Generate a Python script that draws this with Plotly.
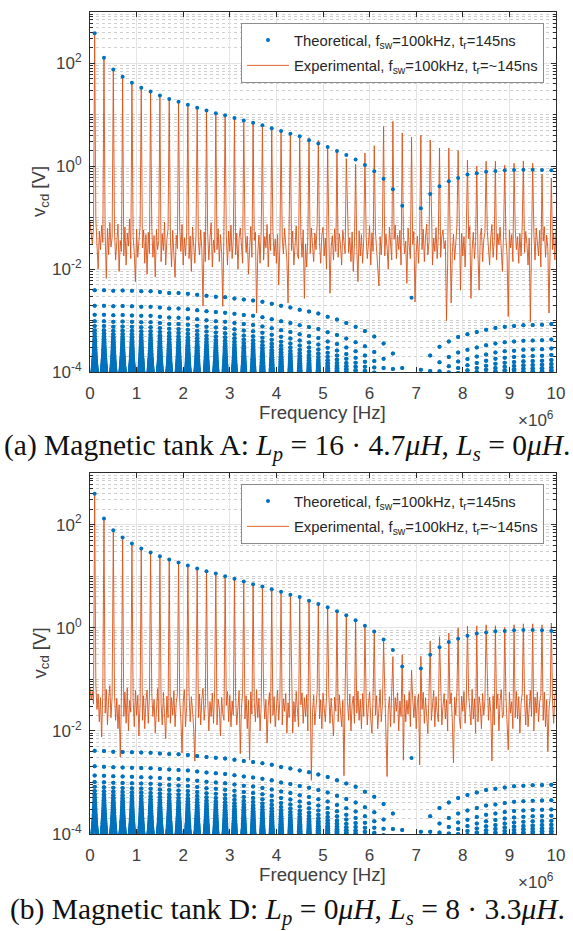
import plotly.graph_objects as go

W, H = 573, 931

# ---------------------------------------------------------------- data
F_SW = 100e3  # switching frequency [Hz]

# odd harmonics of the switching frequency shown on the axis
harmonic_order = [1, 3, 5, 7, 9, 11, 13, 15, 17, 19, 21, 23, 25, 27, 29, 31, 33,
                  35, 37, 39, 41, 43, 45, 47, 49, 51, 53, 55, 57, 59, 61, 63, 65,
                  67, 69, 71, 73, 75, 77, 79, 81, 83, 85, 87, 89, 91, 93, 95, 97, 99]

# theoretical harmonic amplitudes [V]
theo_peak_a = [387, 129, 76, 55, 42, 33.7, 28.6, 23.9, 20.3, 18, 15.8, 13.8, 12.2,
               10.8, 9.8, 8.7, 7.8, 7.05, 6.25, 5.47, 4.85, 4.3, 3.83, 3.2, 2.76,
               2.37, 1.98, 1.66, 1.35, 1.06, 0.80, 0.57, 0.357, 0.17, 0.00277,
               0.153, 0.29, 0.41, 0.51, 0.59, 0.69, 0.73, 0.78, 0.81, 0.84, 0.85,
               0.86, 0.86, 0.85, 0.84]
theo_peak_b = [398, 131, 77.6, 56, 42.9, 34.3, 28.7, 24.4, 21, 18.4, 16.1, 14.1,
               12.5, 11.3, 10, 8.87, 7.9, 7.0, 6.3, 5.6, 4.97, 4.35, 3.93, 3.33,
               2.87, 2.48, 2.08, 1.74, 1.39, 1.09, 0.84, 0.59, 0.37, 0.176, 0.00298,
               0.161, 0.30, 0.42, 0.53, 0.61, 0.70, 0.77, 0.81, 0.85, 0.86, 0.89,
               0.90, 0.90, 0.89, 0.86]

# first side-lobe level next to every harmonic [uV]
theo_sidelobe_a_uv = [3900, 3900, 3800, 3850, 3780, 3710, 3720, 3580, 3450, 3420,
                      3320, 3170, 3050, 2920, 2840, 2700, 2570, 2470, 2310, 2130,
                      1940, 1800, 1630, 1500, 1370, 1180, 1050, 900, 760, 630,
                      490, 360, 230, 120, 2, 110, 210, 310, 390, 480,
                      540, 600, 660, 720, 760, 780, 810, 820, 830, 860]
theo_sidelobe_b_uv = [4100, 4050, 3950, 3900, 3850, 3800, 3750, 3650, 3550, 3500,
                      3400, 3250, 3100, 3000, 2900, 2750, 2600, 2500, 2350, 2200,
                      2000, 1870, 1700, 1570, 1420, 1280, 1100, 950, 820, 660,
                      530, 380, 250, 120, 2, 110, 220, 320, 410, 500,
                      570, 640, 710, 750, 800, 840, 860, 880, 890, 900]

# side-lobe rows: distance from the harmonic [kHz] and level relative to the first lobe
sidelobe_offset_khz = [1.2, 2.4, 3.6, 4.8, 6.0, 7.2, 8.4, 9.6, 10.8, 12.0, 13.2, 14.4,
                       15.6, 16.8, 18.0, 19.2, 20.4, 21.6, 22.8, 24.0, 25.2, 26.4,
                       27.6, 28.8, 30.0, 31.2, 32.4, 33.6, 34.8, 36.0, 37.2, 38.4,
                       39.6, 40.8, 42.0, 43.2, 44.4, 45.6, 46.8, 48.0]
sidelobe_ratio = [1, .5, .333, .25, .2, .167, .143, .125, .111, .1, .0909, .0833,
                  .0769, .0714, .0667, .0625, .0588, .0556, .0526, .05, .0476, .0455,
                  .0435, .0417, .04, .0385, .037, .0357, .0345, .0333, .0323, .0313,
                  .0303, .0294, .0286, .0278, .027, .0263, .0256, .025]

# measured harmonic peaks [V]
meas_peak_a = [387, 129, 76, 55, 42, 33.7, 28.6, 23.9, 20.3, 18, 15.8, 13.8, 12.2,
               10.8, 9.8, 8.7, 7.8, 7.05, 6.25, 5.47, 4.85, 4.5, 4.0, 3.6, 3.2, 2.5,
               2.1, 1.41, 1.09, 1.81, 2.52, 5.98, 7.48, 4.43, 3.7, 4.0, 3.24, 2.27,
               2.27, 2.02, 1.31, 1.01, 1.25, 1.25, 1.05, 1.14, 1.27, 1.14, 0.70, 0.59]
meas_peak_b = [398, 131, 77.6, 56, 42.9, 34.3, 28.7, 24.4, 21, 18.4, 16.1, 14.1,
               12.5, 11.3, 10, 8.87, 7.9, 7.0, 6.3, 5.6, 4.97, 4.35, 3.93, 3.33,
               2.87, 2.48, 2.08, 1.74, 1.39, 1.09, 0.84, 0.54, 0.275, 0.30, 0.15,
               0.28, 0.55, 0.67, 0.79, 1.0, 1.08, 1.09, 1.14, 1.09, 1.01, 1.14,
               1.19, 1.19, 1.14, 1.23]

# measured floor between the harmonics [mV], one row per gap (25 kHz bins)
meas_floor_a_mv = [
    [85, 52, 30, 64],
    [90, 38, 10, 55, 24, 71, 33],
    [48, 6.6, 62, 19, 80, 27, 41],
    [58, 15, 44, 75, 9, 36, 22],
    [18, 66, 12, 50, 28, 95, 16],
    [43, 21, 5.7, 60, 17, 39, 70],
    [26, 58, 13, 47, 8, 52, 20],
    [68, 17, 45, 7, 59, 24, 36],
    [14, 49, 23, 82, 12, 38, 61],
    [40, 11, 57, 19, 7, 46, 25],
    [63, 22, 74, 12, 41, 18, 52],
    [16, 44, 9, 66, 27, 13, 48],
    [35, 19, 58, 24, 1.9, 53, 14],
    [50, 15, 42, 79, 11, 37, 21],
    [24, 61, 14, 47, 20, 1.9, 67],
    [45, 12, 55, 22, 72, 16, 38],
    [19, 50, 10, 40, 63, 25, 13],
    [57, 21, 44, 8, 33, 68, 17],
    [36, 52, 1.4, 20, 46, 13, 60],
    [15, 43, 26, 74, 11, 48, 23],
    [54, 18, 39, 13, 47, 4.9, 30],
    [42, 20, 62, 28, 15, 2.2, 51],
    [23, 55, 12, 40, 69, 19, 16],
    [47, 17, 58, 2.7, 31, 11, 44],
    [20, 63, 35, 14, 50, 24, 77],
    [33, 13, 46, 65, 18, 40, 10],
    [52, 3.4, 27, 45, 15, 61, 22],
    [17, 49, 30, 12, 57, 35, 20],
    [64, 21, 41, 14, 53, 9, 32],
    [25, 5.7, 56, 18, 47, 13, 39],
    [44, 16, 31, 70, 12, 51, 22],
    [55, 26, 12, 4.7, 43, 19, 62],
    [18, 48, 27, 10, 66, 34, 15],
    [38, 72, 16, 46, 24, 57, 12],
    [51, 20, 35, 5.3, 63, 28, 16],
    [30, 54, 2.3, 21, 44, 13, 49],
    [24, 60, 14, 42, 75, 19, 33],
    [53, 12, 40, 22, 64, 16, 45],
    [17, 44, 58, 25, 36, 1.0, 13],
    [62, 2.2, 21, 48, 15, 39, 71],
    [27, 3.9, 50, 18, 43, 11, 59],
    [39, 68, 2.7, 24, 52, 16, 34],
    [20, 3.9, 45, 63, 14, 37, 51],
    [56, 23, 12, 42, 74, 17, 36],
    [15, 49, 30, 66, 21, 9, 53],
    [41, 19, 1.2, 58, 26, 47, 14],
    [61, 24, 43, 13, 50, 18, 69],
    [21, 54, 32, 12, 40, 0.95, 28],
    [48, 15, 63, 29, 18, 57, 11],
    [35, 67, 17, 46, 25, 1.4, 55],
    [24, 50, 15, 60],
]
meas_floor_b_mv = [
    [70, 40, 58, 33],
    [78, 26, 52, 15, 44, 7.6, 60],
    [22, 64, 13, 41, 75, 18, 47],
    [55, 16, 43, 11, 32, 3.1, 50],
    [19, 57, 14, 68, 10, 39, 23],
    [42, 12, 61, 20, 49, 8, 35],
    [16, 48, 11, 38, 62, 14, 45],
    [53, 19, 41, 9, 30, 66, 15],
    [34, 13, 56, 22, 7, 47, 18],
    [14, 44, 20, 60, 12, 35, 51],
    [40, 17, 3.7, 36, 63, 12, 30],
    [55, 15, 46, 25, 11, 2.6, 38],
    [18, 52, 13, 42, 67, 16, 33],
    [47, 10, 37, 19, 54, 14, 60],
    [13, 41, 28, 8, 45, 21, 16],
    [31, 58, 15, 49, 12, 38, 20],
    [44, 13, 35, 61, 3.6, 29, 52],
    [17, 48, 11, 39, 2.7, 57, 21],
    [36, 15, 63, 18, 43, 10, 33],
    [51, 17, 40, 5.8, 30, 55, 14],
    [20, 46, 12, 37, 62, 16, 41],
    [13, 42, 24, 53, 9, 35, 18],
    [48, 9, 37, 15, 58, 22, 12],
    [32, 55, 14, 44, 19, 50, 10],
    [41, 1.1, 23, 49, 13, 36, 60],
    [17, 40, 11, 54, 27, 15, 46],
    [52, 14, 43, 20, 8, 45, 24],
    [15, 50, 28, 12, 39, 1.35, 57],
    [37, 16, 52, 10, 33, 47, 14],
    [22, 59, 16, 41, 11, 53, 19],
    [45, 13, 34, 57, 17, 9, 49],
    [20, 48, 11, 37, 63, 15, 31],
    [54, 17, 1.3, 26, 46, 12, 40],
    [14, 44, 24, 55, 10, 38, 19],
    [2.7, 50, 15, 39, 21, 58, 12],
    [42, 18, 48, 11, 35, 52, 2.2],
    [26, 56, 14, 44, 19, 9, 50],
    [16, 38, 60, 12, 46, 23, 15],
    [49, 13, 30, 53, 17, 40, 10],
    [33, 55, 16, 2.4, 45, 20, 62],
    [19, 11, 47, 24, 58, 14, 38],
    [51, 22, 13, 64, 17, 42, 9],
    [15, 46, 31, 11, 53, 20, 40],
    [60, 16, 45, 23, 2.6, 48, 13],
    [27, 52, 10, 39, 63, 18, 21],
    [47, 14, 4.3, 56, 22, 37, 11],
    [18, 58, 17, 46, 9, 33, 54],
    [41, 13, 50, 12, 30, 61, 19],
    [10, 45, 22, 57, 15, 36, 49],
    [16, 56, 12, 40, 4.0, 26, 47],
    [38, 14, 49, 60],
]

x_tick_labels = ["0", "1", "2", "3", "4", "5", "6", "7", "8", "9", "10"]
y_tick_values = [1e-4, 1e-2, 1e0, 1e2]
y_tick_labels = ["10<sup>-4</sup>", "10<sup>-2</sup>", "10<sup>0</sup>", "10<sup>2</sup>"]

name_theo = "Theoretical, f<sub>sw</sub>=100kHz, t<sub>r</sub>=145ns"
name_meas = "Experimental, f<sub>sw</sub>=100kHz, t<sub>r</sub>=~145ns"
captions = [
    "(a) Magnetic tank A: <i>L<sub>p</sub></i> = 16 · 4.7<i>μH</i>, "
    "<i>L<sub>s</sub></i> = 0<i>μH</i>.",
    "(b) Magnetic tank D: <i>L<sub>p</sub></i> = 0<i>μH</i>, "
    "<i>L<sub>s</sub></i> = 8 · 3.3<i>μH</i>.",
]

# ---------------------------------------------------------------- helpers
BIN_HZ = 25e3
harm_hz = [n * F_SW for n in harmonic_order]


def theoretical_points(peaks, sidelobes_uv):
    xs, ys = [], []
    for f, pk, lobe in zip(harm_hz, peaks, sidelobes_uv):
        for off, r in zip(sidelobe_offset_khz, sidelobe_ratio):
            v = lobe * 1e-6 * r
            if v < 9e-5:
                break
            xs += [f - off * 1e3, f + off * 1e3]
            ys += [v, v]
        xs.append(f)
        ys.append(pk)
    return xs, ys


def measured_points(peaks, floor_mv):
    xs, ys = [], []
    for g, gap in enumerate(floor_mv):
        n = len(gap)
        for t, val in enumerate(gap):
            if g == 0:
                f = t * BIN_HZ
            elif g == len(floor_mv) - 1:
                f = harm_hz[-1] + (t + 1) * BIN_HZ
            else:
                lo, hi = harm_hz[g - 1], harm_hz[g]
                f = lo + (t + 1) * (hi - lo) / (n + 1)
            xs.append(f)
            ys.append(val / 1000.0)
        if g < len(peaks):
            xs.append(harm_hz[g])
            ys.append(peaks[g])
    return xs, ys


# ---------------------------------------------------------------- figure
BLUE = "#0072BD"
ORANGE = "#D95319"
AXC = "#2b2b2b"
TXT = "#404040"
SANS = "Liberation Sans, Arial, sans-serif"
SERIF = "Liberation Serif, Times New Roman, serif"

fig = go.Figure()

panels = [
    dict(peak_t=theo_peak_a, lobe=theo_sidelobe_a_uv, peak_m=meas_peak_a,
         floor=meas_floor_a_mv, top=12, bottom=372, legend="legend"),
    dict(peak_t=theo_peak_b, lobe=theo_sidelobe_b_uv, peak_m=meas_peak_b,
         floor=meas_floor_b_mv, top=473, bottom=834, legend="legend2"),
]

minor_vals = []
for e in range(-4, 3):
    for m in range(2, 10):
        minor_vals.append(m * 10.0 ** e)
for e in (-3, -1, 1, 3):
    minor_vals.append(10.0 ** e)

x_dom = [90 / W, 556 / W]

for i, p in enumerate(panels):
    xa = "x" if i == 0 else "x2"
    ya = "y" if i == 0 else "y2"
    mx, my = measured_points(p["peak_m"], p["floor"])
    tx, ty = theoretical_points(p["peak_t"], p["lobe"])
    fig.add_trace(go.Scatter(
        x=mx, y=my, mode="lines", name=name_meas,
        line=dict(color=ORANGE, width=0.9), xaxis=xa, yaxis=ya,
        legend=p["legend"], legendgroup="meas%d" % i, legendrank=2,
        hoverinfo="skip"))
    fig.add_trace(go.Scatter(
        x=tx, y=ty, mode="markers", name=name_theo,
        marker=dict(color=BLUE, size=4, line=dict(width=0)),
        xaxis=xa, yaxis=ya, legend=p["legend"], legendgroup="theo%d" % i,
        legendrank=1, hoverinfo="skip"))

    xkey = "xaxis" if i == 0 else "xaxis2"
    ykey = "yaxis" if i == 0 else "yaxis2"
    fig.update_layout(**{
        xkey: dict(
            domain=x_dom, anchor=ya, range=[0, 1e7], automargin=False,
            tickmode="array", tickvals=[k * 1e6 for k in range(11)],
            ticktext=x_tick_labels, ticks="inside", ticklen=5, tickcolor=AXC,
            showline=True, linecolor=AXC, linewidth=1, mirror="allticks",
            showgrid=True, gridcolor="#e4e4e4", gridwidth=1, zeroline=False,
            tickfont=dict(family=SANS, size=17, color=TXT),
            ticklabelstandoff=6),
        ykey: dict(
            domain=[1 - p["bottom"] / H, 1 - p["top"] / H], anchor=xa,
            type="log", range=[-4, 3], automargin=False,
            tickmode="array", tickvals=y_tick_values, ticktext=y_tick_labels,
            ticks="inside", ticklen=5, tickcolor=AXC,
            showline=True, linecolor=AXC, linewidth=1, mirror="allticks",
            showgrid=True, gridcolor="#e4e4e4", gridwidth=1, zeroline=False,
            tickfont=dict(family=SANS, size=17, color=TXT),
            ticklabelstandoff=4,
            minor=dict(tickmode="array", tickvals=minor_vals, ticks="inside",
                       ticklen=3, tickcolor=AXC, showgrid=True,
                       gridcolor="#cfcfcf", griddash="dot", gridwidth=1)),
    })

    leg_key = "legend" if i == 0 else "legend2"
    fig.update_layout(**{leg_key: dict(
        x=544 / W, xanchor="right", y=1 - (p["top"] + 11) / H, yanchor="top",
        bgcolor="white", bordercolor="#8c8c8c", borderwidth=1,
        font=dict(family=SANS, size=14.8, color="#262626"),
        itemwidth=42, traceorder="grouped", tracegroupgap=3)})

    # axis titles, exponent and caption
    mid_y = (p["top"] + p["bottom"]) / 2
    fig.add_annotation(x=40 / W, y=1 - mid_y / H, xref="paper", yref="paper",
                       text="v<sub>cd</sub> [V]", textangle=-90, showarrow=False,
                       font=dict(family=SANS, size=18.7, color=TXT),
                       xanchor="center", yanchor="middle")
    fig.add_annotation(x=323 / W, y=1 - (p["bottom"] + 40) / H, xref="paper",
                       yref="paper", text="Frequency [Hz]", showarrow=False,
                       font=dict(family=SANS, size=18.7, color=TXT),
                       xanchor="center", yanchor="middle")
    fig.add_annotation(x=556 / W, y=1 - (p["bottom"] + 47) / H, xref="paper",
                       yref="paper", text="×10<sup>6</sup>", showarrow=False,
                       font=dict(family=SANS, size=17, color=TXT),
                       xanchor="right", yanchor="middle")
    fig.add_annotation(x=287 / W, y=1 - (p["bottom"] + 75 + 2 * i) / H,
                       xref="paper", yref="paper", text=captions[i],
                       showarrow=False,
                       font=dict(family=SERIF, size=29.5, color="#111111"),
                       xanchor="center", yanchor="middle")

fig.update_layout(
    width=W, height=H, margin=dict(l=0, r=0, t=0, b=0, autoexpand=False),
    paper_bgcolor="white", plot_bgcolor="white", showlegend=True,
)

fig.write_html("out.html")
